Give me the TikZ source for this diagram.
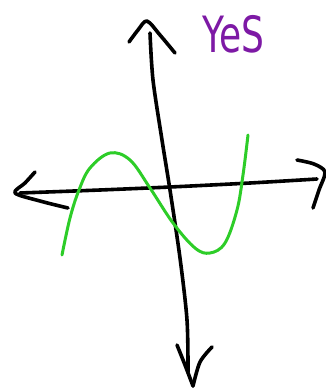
\documentclass[tikz,border=0pt]{standalone}
\usepackage{fontspec}
\setmainfont{DejaVu Sans}
\definecolor{inkpurple}{RGB}{125,25,165}
\definecolor{inkgreen}{RGB}{45,205,40}
\tikzset{
  ink/.style={draw=black,line width=3.6pt,line cap=round,line join=round},
  curve/.style={draw=inkgreen,line width=3pt,line cap=round,line join=round},
}
\begin{document}
\begin{tikzpicture}[x=1pt,y=-1pt]
\useasboundingbox (0,0) rectangle (326,389);
% vertical axis
\draw[ink] plot[smooth] coordinates {(150,33) (153,80) (162,140) (170,190) (180,258) (187,320) (188,372)};
\draw[ink] plot[smooth] coordinates {(129,42) (138,30) (147,21) (160,35) (175,53)};
\draw[ink] plot[smooth] coordinates {(177,345) (185,365) (193,386)};
\draw[ink] plot[smooth] coordinates {(193,386) (200,362) (212,347)};
% horizontal axis
\draw[ink] plot[smooth] coordinates {(20,193) (100,190) (170,187) (250,183) (317,179)};
\draw[ink] plot[smooth] coordinates {(35,172) (25,183) (15,193) (40,201) (68,208)};
\draw[ink] plot[smooth] coordinates {(297,160) (314,164) (325,172) (319,190) (313,208)};
% green cubic
\draw[curve] plot[smooth,tension=0.6] coordinates {(62,255) (70,218) (79,190) (90,168) (110,153) (130,160) (150,188) (173,223) (195,248) (210,253) (225,243) (237,210) (243,175) (248,135)};
% label
\node[text=inkpurple,font=\fontsize{50}{50}\selectfont,anchor=base west,inner sep=0pt,xscale=0.72] (yes) at (202,52) {YeS};
\end{tikzpicture}
\end{document}
